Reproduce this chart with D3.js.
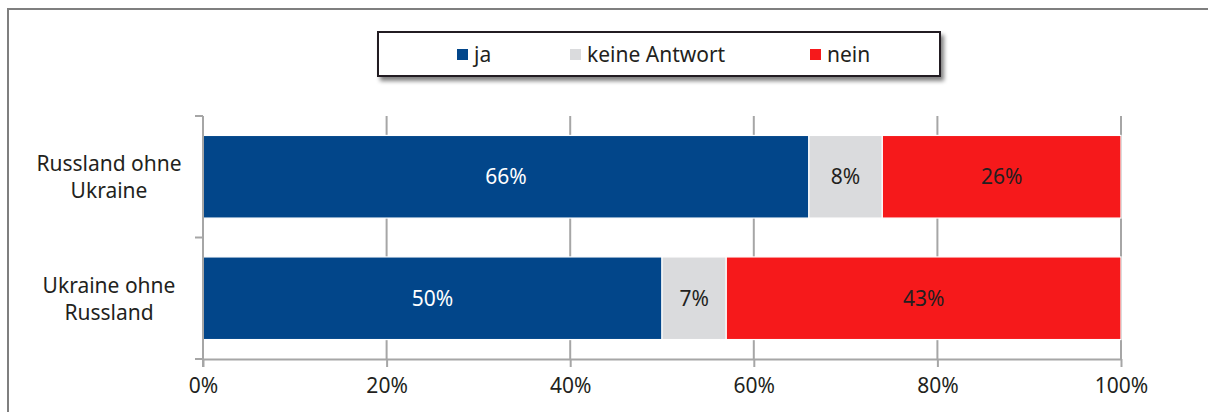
<!DOCTYPE html>
<html><head><meta charset="utf-8">
<script src="https://cdn.jsdelivr.net/npm/d3@7"></script>
<style>body{margin:0;background:#fff;}svg{display:block;font-family:"Noto Sans",sans-serif;}</style>
</head><body><svg id="c" width="1208" height="412"></svg>
<script>
const categories = ["Russland ohne Ukraine", "Ukraine ohne Russland"];
const categoryLines = [["Russland ohne","Ukraine"],["Ukraine ohne","Russland"]];
const seriesNames = ["ja", "keine Antwort", "nein"];
const ja = [66, 50];
const keineAntwort = [8, 7];
const nein = [26, 43];
const xTicks = [0, 20, 40, 60, 80, 100];
const xTickLabels = ["0%", "20%", "40%", "60%", "80%", "100%"];
const colors = ["#02468a", "#dadbdd", "#f6191b"];
const labelColors = ["#ffffff", "#231f20", "#231f20"];

const svg = d3.select("#c");
const fs = 21;
// outer frame
svg.append("path").attr("d","M8,412 L8,9 L1210,9").attr("fill","none").attr("stroke","#7f7f7f").attr("stroke-width",2);

const x = d3.scaleLinear().domain([0,100]).range([203,1121]);
const y = d3.scaleBand().domain(categories).range([116,359]).paddingInner(0.32).paddingOuter(0.16);

// gridlines
svg.append("g").selectAll("line").data(xTicks.slice(1)).join("line")
  .attr("x1",d=>x(d)).attr("x2",d=>x(d)).attr("y1",116).attr("y2",359)
  .attr("stroke","#a6a6a6").attr("stroke-width",2);

// stacked bars
const data = categories.map((c,i)=>({cat:c, vals:[ja[i], keineAntwort[i], nein[i]]}));
const stack = d3.stack().keys([0,1,2]).value((d,k)=>d.vals[k]);
const series = stack(data);
const g = svg.append("g");
series.forEach((s,k)=>{
  g.selectAll(null).data(s).join("rect")
    .attr("x",d=>x(d[0])).attr("width",d=>x(d[1])-x(d[0]))
    .attr("y",d=>y(d.data.cat)).attr("height",y.bandwidth())
    .attr("fill",colors[k]).attr("stroke","#fff").attr("stroke-width",1.2);
  g.selectAll(null).data(s).join("text")
    .attr("x",d=>(x(d[0])+x(d[1]))/2).attr("y",d=>y(d.data.cat)+y.bandwidth()/2)
    .attr("dy","0.35em").attr("text-anchor","middle").attr("font-size",fs)
    .attr("fill",labelColors[k]).text(d=>(d[1]-d[0])+"%");
});

// x axis
const xAxis = d3.axisBottom(x).tickValues(xTicks).tickFormat((d,i)=>xTickLabels[i]).tickSize(8).tickSizeOuter(0).tickPadding(11);
const xg = svg.append("g").attr("transform","translate(0,359)").call(xAxis);
xg.select(".domain").attr("stroke","#a6a6a6").attr("stroke-width",2);
xg.selectAll(".tick line").attr("stroke","#a6a6a6").attr("stroke-width",2);
xg.selectAll(".tick text").attr("font-size",fs).attr("fill","#231f20").attr("font-family","'Noto Sans',sans-serif");

// y axis
const yg = svg.append("g");
yg.append("line").attr("x1",203).attr("x2",203).attr("y1",116).attr("y2",367).attr("stroke","#a6a6a6").attr("stroke-width",2);
const bounds = [116, y(categories[1]) - y.step()*y.paddingInner()/2, 359];
yg.selectAll(null).data(bounds).join("line")
  .attr("x1",195).attr("x2",203).attr("y1",d=>d).attr("y2",d=>d)
  .attr("stroke","#a6a6a6").attr("stroke-width",2);

// category labels
categories.forEach((c,i)=>{
  const cy = y(c)+y.bandwidth()/2;
  const t = svg.append("text").attr("text-anchor","middle").attr("font-size",fs).attr("fill","#231f20");
  categoryLines[i].forEach((ln,j)=>{
    t.append("tspan").attr("x",109).attr("y",cy + (j===0?-13:14)).attr("dy","0.35em").text(ln);
  });
});

// legend
const defs = svg.append("defs");
const f = defs.append("filter").attr("id","sh").attr("x","-5%").attr("y","-30%").attr("width","115%").attr("height","180%");
f.append("feGaussianBlur").attr("in","SourceAlpha").attr("stdDeviation",2);
f.append("feOffset").attr("dx",3).attr("dy",4).attr("result","ob");
f.append("feComponentTransfer").append("feFuncA").attr("type","linear").attr("slope",0.5);
const fm = f.append("feMerge"); fm.append("feMergeNode"); fm.append("feMergeNode").attr("in","SourceGraphic");
svg.append("rect").attr("x",378).attr("y",32).attr("width",562).attr("height",44)
  .attr("fill","#fff").attr("stroke","#231f20").attr("stroke-width",2).attr("filter","url(#sh)");
const legX = [457, 570, 810];
seriesNames.forEach((n,k)=>{
  svg.append("rect").attr("x",legX[k]).attr("y",49).attr("width",11).attr("height",11).attr("fill",colors[k]);
  svg.append("text").attr("x",legX[k]+17).attr("y",55).attr("dy","0.35em").attr("font-size",fs).attr("fill","#231f20").text(n);
});
</script></body></html>
